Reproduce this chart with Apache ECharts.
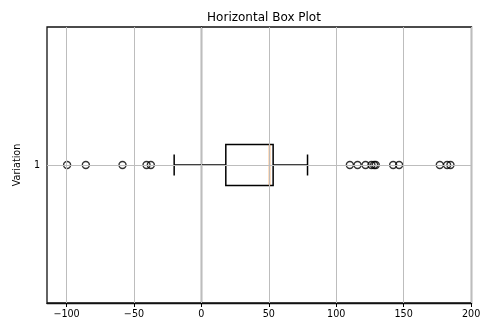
<!DOCTYPE html>
<html>
<head>
<meta charset="utf-8">
<script src="https://cdn.jsdelivr.net/npm/echarts@6/dist/echarts.min.js"></script>
<style>html,body{margin:0;padding:0;background:#fff}#c{width:500px;height:336px}</style>
</head>
<body>
<div id="c"></div>
<script>
var categories = ['1'];
// box statistics: [whiskerLow, q1, median, q3, whiskerHigh]
var boxStats = [-20.2, 18.1, 50.5, 53.2, 78.7];
var outliers = [-99.6, -85.7, -58.5, -40.7, -37.5, 110.1, 115.8, 121.7, 126.1, 128.1, 129.3, 142.2, 146.6, 176.8, 182.2, 184.7];
var xTicks = [-100, -50, 0, 50, 100, 150, 200];

var FONT = 'DejaVu Sans';
var chart = echarts.init(document.getElementById('c'), null, {renderer: 'canvas'});

function fmt(v) { return String(v).replace('-', '\u2212'); }

var gridLines = xTicks.map(function (v) { return {xAxis: v}; });
gridLines.push({yAxis: categories[0]});

chart.setOption({
  animation: false,
  title: {
    text: 'Horizontal Box Plot',
    left: 259, top: 7, textAlign: 'center',
    textStyle: {fontFamily: FONT, fontSize: 12, fontWeight: 'normal', color: '#000'}
  },
  grid: {left: 47, right: 28.5, top: 27, bottom: 33, show: true, borderColor: '#111', borderWidth: 1.3, backgroundColor: 'transparent'},
  xAxis: {
    type: 'value', min: -114.5, max: 200.3,
    axisLine: {show: true, lineStyle: {color: '#111', width: 1.3}},
    axisTick: {show: true, length: 4, customValues: xTicks, lineStyle: {color: '#000', width: 1}},
    axisLabel: {customValues: xTicks, formatter: fmt, fontFamily: FONT, fontSize: 9.6, color: '#000', margin: 6},
    splitLine: {show: false}
  },
  yAxis: {
    type: 'category', data: categories,
    name: 'Variation', nameLocation: 'middle', nameGap: 22, nameRotate: 90,
    nameTextStyle: {fontFamily: FONT, fontSize: 9.6, color: '#000'},
    axisLine: {show: true, lineStyle: {color: '#111', width: 1.3}},
    axisTick: {show: true, alignWithLabel: true, length: 4, lineStyle: {color: '#000', width: 1}},
    axisLabel: {fontFamily: FONT, fontSize: 9.6, color: '#000', margin: 7},
    splitLine: {show: false}
  },
  series: [
    {
      type: 'line', data: [], silent: true, z: 1,
      markLine: {
        silent: true, symbol: ['none', 'none'], label: {show: false},
        lineStyle: {color: '#bdbdbd', width: 1, type: 'solid'},
        emphasis: {disabled: true},
        data: gridLines
      }
    },
    {
      type: 'custom', z: 3,
      data: [[0].concat(boxStats)],
      encode: {x: [1, 2, 3, 4, 5], y: 0},
      renderItem: function (params, api) {
        var c = api.value(0);
        var pLow = api.coord([api.value(1), c]);
        var pQ1 = api.coord([api.value(2), c]);
        var pMed = api.coord([api.value(3), c]);
        var pQ3 = api.coord([api.value(4), c]);
        var pHigh = api.coord([api.value(5), c]);
        var band = api.size([0, 1])[1];
        var h = band * 0.148;
        var cap = band * 0.076;
        var cy = pQ1[1];
        var ls = {stroke: '#000', lineWidth: 1.5, fill: null};
        return {
          type: 'group',
          children: [
            {type: 'line', shape: {x1: pLow[0], y1: cy, x2: pQ1[0], y2: cy}, style: ls},
            {type: 'line', shape: {x1: pQ3[0], y1: cy, x2: pHigh[0], y2: cy}, style: ls},
            {type: 'line', shape: {x1: pLow[0], y1: cy - cap / 2, x2: pLow[0], y2: cy + cap / 2}, style: ls},
            {type: 'line', shape: {x1: pHigh[0], y1: cy - cap / 2, x2: pHigh[0], y2: cy + cap / 2}, style: ls},
            {type: 'rect', shape: {x: pQ1[0], y: cy - h / 2, width: pQ3[0] - pQ1[0], height: h}, style: {stroke: '#000', lineWidth: 1.5, fill: null}},
            {type: 'line', shape: {x1: pMed[0], y1: cy - h / 2, x2: pMed[0], y2: cy + h / 2}, style: {stroke: '#ff7f0e', lineWidth: 1.5}}
          ]
        };
      }
    },
    {
      type: 'scatter', z: 4, symbol: 'circle', symbolSize: 7,
      itemStyle: {color: 'rgba(0,0,0,0)', borderColor: '#000', borderWidth: 1.4},
      data: outliers.map(function (v) { return [v, categories[0]]; })
    }
  ]
});
</script>
</body>
</html>
